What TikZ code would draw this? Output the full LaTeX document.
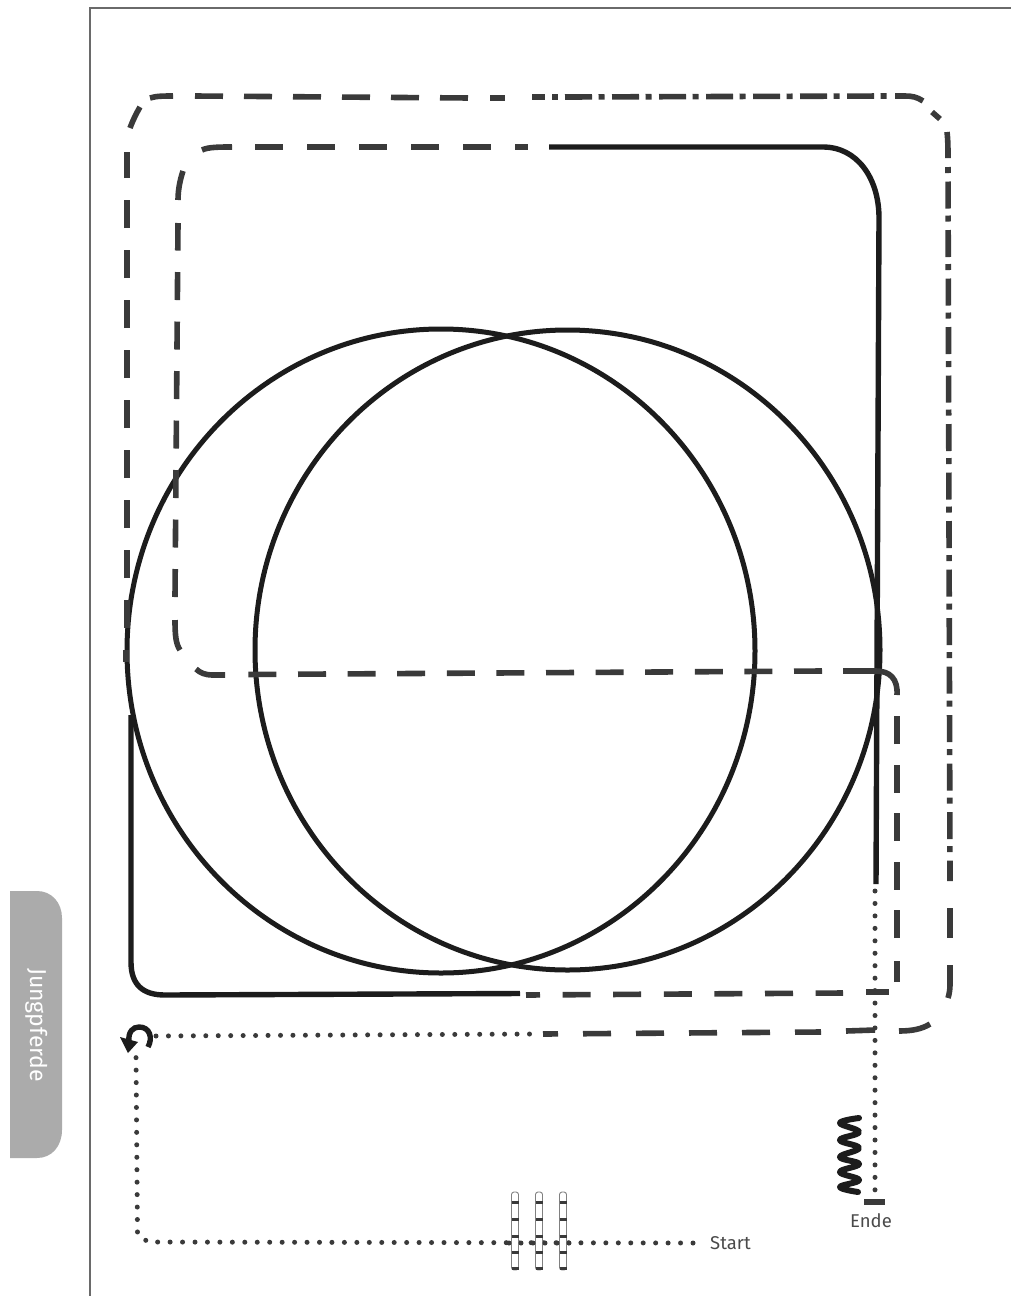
\documentclass[tikz,border=0pt]{standalone}
\usepackage{fontspec}
\setmainfont{Fira Sans}
\definecolor{solidink}{HTML}{1C1C1C}
\definecolor{dashink}{HTML}{3A3A3A}
\definecolor{frameink}{HTML}{6A6A6A}
\definecolor{tabfill}{HTML}{ABABAB}
\definecolor{labelink}{HTML}{4A4A4A}
\tikzset{
  solidline/.style={draw=solidink,line width=5.4pt},
  ringline/.style={draw=solidink,line width=5pt},
  dashline/.style={draw=dashink,line width=5.6pt},
  longdash/.style={dashline,dash pattern=on 28pt off #1},
  dashdot/.style={dashline,dash pattern=on 27pt off 6.5pt on 6pt off 7.5pt},
  dashdotv/.style={dashline,dash pattern=on 27pt off 7pt on 6pt off 8.5pt},
  dotline/.style={draw=dashink,line width=5pt,line cap=round,dash pattern=on 0pt off 12.45pt},
  framerule/.style={draw=frameink,line width=2.4pt},
  gatebox/.style={draw=gray,line width=.9pt,fill=white,rounded corners=2.5pt},
  gatemark/.style={draw=dashink,line width=3pt},
  caption/.style={text=labelink,font=\fontsize{18.5}{20}\selectfont,inner sep=0pt}
}
\begin{document}
\begin{tikzpicture}[x=1pt,y=-1pt]
\useasboundingbox (0,0) rectangle (1011,1296);
% page frame
\draw[framerule] (1011,8) -- (90,8) -- (90,1296);
% side tab
\path[fill=tabfill] (10,891) -- (37,891) .. controls (52,891) and (62,903) .. (62,918) -- (62,1130) .. controls (62,1146) and (52,1158) .. (37,1158) -- (10,1158) -- cycle;
\node[rotate=-90,text=white,font=\fontsize{23}{26}\selectfont,inner sep=0pt] (tab) at (37,1025) {Jungpferde};
% two circles
\draw[ringline] (441,651) ellipse [x radius=314,y radius=322];
\draw[ringline] (567.5,650) ellipse [x radius=312.5,y radius=320];
% solid runs
\draw[solidline] (131,715) -- (131,962) .. controls (131,985) and (143,995) .. (165,995) -- (520,993.5);
\draw[solidline] (549,147) -- (823,147) .. controls (857,147) and (879,178) .. (879,218) -- (876,884);
% inner dashed run
\draw[longdash=22.6pt,dash phase=14pt] (526,995) -- (843,993);
\draw[dashline] (866,992) -- (889,992);
\draw[dashline] (897,982) -- (897,961);
\draw[longdash=20.5pt] (897,938) -- (897,715);
\draw[dashline] (897,695) .. controls (898,679) and (890,671) .. (876,671) -- (843,671);
\draw[longdash=21.6pt] (822,671) -- (248,674.5);
\draw[dashline] (225,675) -- (212,675) .. controls (206,675) and (200,673) .. (196,669);
\draw[dashline] (180,650) .. controls (176,644) and (175,636) .. (175,620);
\draw[longdash=21.5pt] (175,597) -- (178,223);
\draw[dashline] (178,200) .. controls (178,190) and (180,180) .. (183,171);
\draw[dashline] (202,150) .. controls (208,147) and (220,147) .. (232,147);
\draw[longdash=24pt] (255,147) -- (492,147);
\draw[dashline] (515,147) -- (528,147);
% outer dashed run
\draw[dashline] (126,662) -- (126,650);
\draw[longdash=22pt] (127,628) -- (127,152);
\draw[dashline] (130,128) .. controls (133,120) and (136,114) .. (140,107);
\draw[dashline] (150,98) .. controls (156,96) and (164,96) .. (173,96);
\draw[longdash=21pt] (195,96) -- (470,98);
\draw[dashline] (490,98) -- (505,98);
% outer dash-dot run
\draw[dashline] (532,97) -- (545,97);
\draw[dashline] (552,97) -- (558,97);
\draw[dashdot] (565,97) -- (887,96);
\draw[dashline] (895,96) -- (905,96) .. controls (912,96) and (917,97) .. (923,101);
\draw[dashline] (932,112) -- (940,119);
\draw[dashline] (947,132) .. controls (948,140) and (948,150) .. (948,158);
\draw[dashdotv,dash phase=34pt] (948,167) -- (950,881);
\draw[dashline] (950,908) -- (950,938);
\draw[dashline] (950,965) -- (950,985) .. controls (950,990) and (949,995) .. (948,998);
\draw[dashline] (930,1024) .. controls (922,1029) and (912,1031) .. (899,1031);
\draw[dashline] (875,1030) -- (846,1031);
\draw[longdash=25pt,dash phase=13pt] (543,1034) -- (821,1032);
% dotted run
\draw[dotline] (693,1243) -- (148,1242) -- (137.5,1234) -- (136,1056);
\draw[dotline] (156,1036) -- (532,1034);
\draw[dotline] (875,891) -- (875,1193);
% turn-around arrow
\draw[draw=solidink,line width=5.4pt] (148,1047) .. controls (153,1038) and (150,1027) .. (139,1027) .. controls (133,1027) and (128,1032) .. (129,1041);
\path[fill=solidink] (128,1053) -- (120,1037) -- (138,1042) -- cycle;
% spring
\draw[draw=solidink,line width=6pt,line cap=round,line join=round] plot[smooth,tension=.7] coordinates {(859,1118) (840,1123) (859,1132) (840,1140) (859,1148) (840,1157) (859,1164) (840,1172) (859,1180) (840,1187) (858,1192)};
% end bar
\draw[draw=dashink,line width=5.6pt] (864,1202) -- (885,1202);
% start gates
\foreach \gx in {515,539,563} {
  \path[gatebox] (\gx-3.5,1192) rectangle (\gx+3.5,1270);
  \foreach \gy in {1202,1219,1236,1252,1268} {
    \draw[gatemark] (\gx-3.5,\gy) -- (\gx+3.5,\gy);
  }
}
\foreach \gx in {509,521,533,545,557,569} {
  \path[fill=dashink] (\gx,1243) circle (2.5);
}
% labels
\node[caption,anchor=west] (startlabel) at (710,1243) {Start};
\node[caption] (endelabel) at (871,1221) {Ende};
\end{tikzpicture}
\end{document}
